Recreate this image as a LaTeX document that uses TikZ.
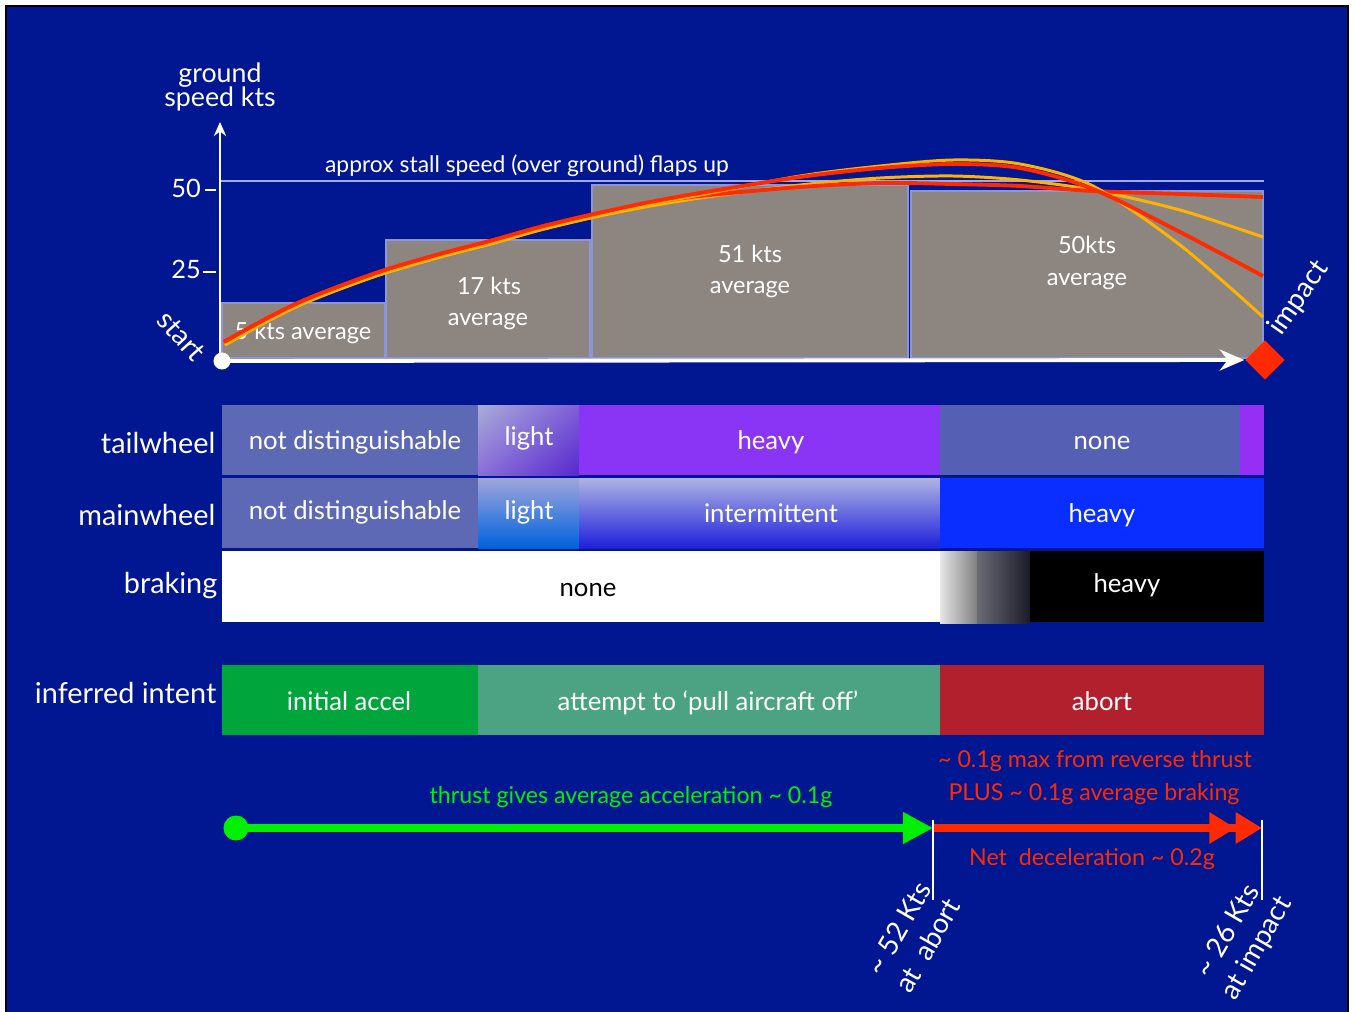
\documentclass[tikz,border=0pt]{standalone}
\usepackage{fontspec}
\setmainfont{Lato}
\usepackage{tikz}
\usetikzlibrary{arrows.meta,shadings,shapes.geometric}

\definecolor{bgblue}{HTML}{011691}
\definecolor{stallline}{HTML}{A3A9E6}
\definecolor{bargrey}{HTML}{8D8680}
\definecolor{baredge}{HTML}{8C94DA}
\definecolor{notdist}{HTML}{5E69B5}
\definecolor{violet}{HTML}{8A34F5}
\definecolor{noneblue}{HTML}{5560B4}
\definecolor{heavyblue}{HTML}{0A2EFF}
\definecolor{accel}{HTML}{00A53C}
\definecolor{pulloff}{HTML}{4BA384}
\definecolor{abortred}{HTML}{B1202C}
\definecolor{thrustgreen}{HTML}{00F000}
\definecolor{brakered}{HTML}{FF2A00}
\definecolor{curveorange}{HTML}{FFB300}

\begin{document}
\begin{tikzpicture}[x=0.01cm,y=-0.01cm,
    rowlbl/.style={text=white,font=\fontsize{8.2}{10}\selectfont,inner sep=0pt,anchor=base east},
    celltxt/.style={text=white,font=\fontsize{7.3}{9}\selectfont,inner sep=0pt,anchor=base},
    bartxt/.style={text=white,font=\fontsize{6.7}{8}\selectfont,inner sep=0pt,anchor=base},
    axtxt/.style={text=white,font=\fontsize{7.2}{8}\selectfont,inner sep=0pt,anchor=base},
    bar/.style={fill=bargrey,draw=baredge,line width=0.6pt},
    redcurve/.style={draw=brakered,line width=1.1pt},
    orangecurve/.style={draw=curveorange,line width=0.85pt},
    redtxt/.style={text=brakered,font=\fontsize{6.6}{8}\selectfont,inner sep=0pt,anchor=base},
    speedtxt/.style={text=white,font=\fontsize{7.9}{9.5}\selectfont,align=center,rotate=60,inner sep=0pt}]
    \useasboundingbox (0,0) rectangle (1354,1012);
    \fill[white] (0,0) rectangle (1354,1012);
    \filldraw[fill=bgblue,draw=black,line width=0.4pt] (6,6) rectangle (1348,1013);

    % speed graph
    \draw[stallline,line width=0.55pt] (220,181) -- (1264,181);
    \node[axtxt,font=\fontsize{6.5}{8}\selectfont] (stall) at (527,172) {approx stall speed (over ground) flaps up};
    \filldraw[bar] (222,303) rectangle (385,358);
    \filldraw[bar] (386,240) rectangle (590,358);
    \filldraw[bar] (592,185) rectangle (908,358);
    \filldraw[bar] (911,191) rectangle (1263,358);
    \node[bartxt] (avgfive) at (303,339) {5 kts average};
    \node[bartxt] (seventeen) at (489,294) {17 kts};
    \node[bartxt] (seventeenb) at (488,325) {average};
    \node[bartxt] (fiftyone) at (750,262) {51 kts};
    \node[bartxt] (fiftyoneb) at (750,293) {average};
    \node[bartxt] (fifty) at (1087,253) {50kts};
    \node[bartxt] (fiftyb) at (1087,285) {average};

    \draw[orangecurve] plot[smooth] coordinates {(225,345) (262,324) (300,305) (340,289) (385,273) (440,257) (490,244) (540,230) (590,218) (645,207) (700,198) (800,185) (880,178) (953,176) (1020,180) (1093,190) (1180,210) (1263,237)};
    \draw[redcurve] plot[smooth] coordinates {(224,342) (262,321) (300,302) (340,286) (385,270) (440,254) (490,241) (540,227) (590,215) (645,204) (700,196) (800,187) (880,183) (953,184) (1020,186) (1093,191) (1180,194) (1263,197)};
    \draw[orangecurve] plot[smooth] coordinates {(225,345) (262,324) (300,305) (340,289) (385,273) (440,257) (490,244) (540,230) (590,218) (645,205) (700,195) (800,176) (880,166) (953,160) (1020,164) (1093,186) (1180,245) (1263,317)};
    \draw[redcurve] plot[smooth] coordinates {(224,342) (262,321) (300,302) (340,286) (385,270) (440,254) (490,241) (540,227) (590,215) (645,203) (700,193) (800,177) (880,168) (953,164) (1020,168) (1093,189) (1180,232) (1263,276)};

    \node[circle,fill=white,minimum size=0.17cm,inner sep=0pt] (origin) at (222,361) {};
    \node[diamond,fill=brakered,minimum width=0.4cm,minimum height=0.4cm,inner sep=0pt] (impact) at (1265,360) {};
    \coordinate (ytop) at (220,122);
    \draw[white,line width=0.7pt,-{Stealth[length=4pt,width=3.5pt]}] (220,362) -- (ytop);
    \draw[white,line width=1.1pt,-{Stealth[length=7pt,width=6pt]}] (origin.center) -- (impact.west);
    \draw[white,line width=0.4pt] (205,190) -- (216,190);
    \draw[white,line width=0.4pt] (203,272) -- (216,272);
    \node[axtxt] (tickfifty) at (186,197) {50};
    \node[axtxt] (ticktwentyfive) at (186,278) {25};
    \node[axtxt,font=\fontsize{7.6}{9}\selectfont] (yname) at (220,83) {ground};
    \node[axtxt,font=\fontsize{7.6}{9}\selectfont] (ynameb) at (220,106) {speed kts};
    \node[text=white,font=\fontsize{8}{9}\selectfont,rotate=-48,inner sep=0pt] (startlbl) at (181,336) {start};
    \node[text=white,font=\fontsize{8}{9}\selectfont,rotate=55,inner sep=0pt] (impactlbl) at (1299,298) {impact};

    % tailwheel
    \node[rowlbl] (tail) at (216,453) {tailwheel};
    \fill[notdist] (222,405) rectangle (478,475);
    \shade[upper left={rgb,255:red,168;green,172;blue,216},upper right={rgb,255:red,126;green,95;blue,216},
           lower left={rgb,255:red,138;green,110;blue,218},lower right={rgb,255:red,88;green,40;blue,206}] (478,405) rectangle (579,475);
    \fill[violet] (579,405) rectangle (940,475);
    \fill[noneblue] (940,405) rectangle (1240,475);
    \fill[violet!90!magenta] (1240,405) rectangle (1264,475);
    \node[celltxt] (tailnd) at (355,449) {not distinguishable};
    \node[celltxt] (taillight) at (529,445) {light};
    \node[celltxt] (tailheavy) at (771,449) {heavy};
    \node[celltxt] (tailnone) at (1102,449) {none};

    % mainwheel
    \node[rowlbl] (main) at (216,525) {mainwheel};
    \fill[notdist] (222,478) rectangle (478,548);
    \shade[top color={rgb,255:red,160;green,166;blue,218},bottom color={rgb,255:red,0;green,98;blue,222}] (478,478) rectangle (579,548);
    \shade[top color={rgb,255:red,174;green,180;blue,226},bottom color={rgb,255:red,30;green,32;blue,218}] (579,478) rectangle (940,548);
    \fill[heavyblue] (940,478) rectangle (1264,548);
    \node[celltxt] (mainnd) at (355,519) {not distinguishable};
    \node[celltxt] (mainlight) at (529,519) {light};
    \node[celltxt] (mainint) at (771,522) {intermittent};
    \node[celltxt] (mainheavy) at (1102,522) {heavy};

    % braking
    \node[rowlbl] (brake) at (218,593) {braking};
    \fill[white] (222,551) rectangle (940,622);
    \shade[left color=black!10,right color=black!50] (940,551) rectangle (977,623);
    \shade[left color={rgb,255:red,104;green,106;blue,116},right color={rgb,255:red,28;green,28;blue,40}] (977,551) rectangle (1030,623);
    \fill[black] (1030,551) rectangle (1264,622);
    \node[celltxt,text=black] (brakenone) at (588,596) {none};
    \node[celltxt] (brakeheavy) at (1127,592) {heavy};

    % inferred intent
    \node[rowlbl] (intent) at (217,703) {inferred intent};
    \fill[accel] (222,665) rectangle (478,735);
    \fill[pulloff] (478,665) rectangle (940,735);
    \fill[abortred] (940,665) rectangle (1264,735);
    \node[celltxt] (initial) at (349,710) {initial accel};
    \node[celltxt] (attempt) at (708,710) {attempt to `pull aircraft off'};
    \node[celltxt] (abortlbl) at (1102,710) {abort};

    % accelerations
    \node[circle,fill=thrustgreen,minimum size=0.25cm,inner sep=0pt] (gdot) at (236,828) {};
    \coordinate (abortpt) at (933,828);
    \coordinate (impactpt) at (1262,828);
    \draw[thrustgreen,line width=2pt,-{Triangle[length=8.5pt,width=8.5pt]}] (gdot.center) -- (abortpt);
    \draw[brakered,line width=2.3pt,-{Triangle[length=7.5pt,width=8.5pt] Triangle[length=7.5pt,width=8.5pt]}] (abortpt) -- (impactpt);
    \coordinate (aborttop) at (933,820);
    \coordinate (abortbot) at (933,900);
    \coordinate (impacttop) at (1262,820);
    \coordinate (impactbot) at (1262,900);
    \draw[white,line width=0.6pt] (aborttop) -- (abortbot);
    \draw[white,line width=0.6pt] (impacttop) -- (impactbot);
    \node[redtxt,text=thrustgreen] (thrust) at (631,803) {thrust gives average acceleration \textasciitilde{} 0.1g};
    \node[redtxt] (reverse) at (1095,767) {\textasciitilde{} 0.1g max from reverse thrust};
    \node[redtxt] (plus) at (1094,800) {PLUS \textasciitilde{} 0.1g average braking};
    \node[redtxt] (net) at (1092,865) {Net\ \ deceleration \textasciitilde{} 0.2g};
    \node[speedtxt] (atabort) at (913,937) {\textasciitilde{} 52 Kts\\at\ \ abort};
    \node[speedtxt] (atimpact) at (1243,940) {\textasciitilde{} 26 Kts\\at impact};
\end{tikzpicture}
\end{document}
